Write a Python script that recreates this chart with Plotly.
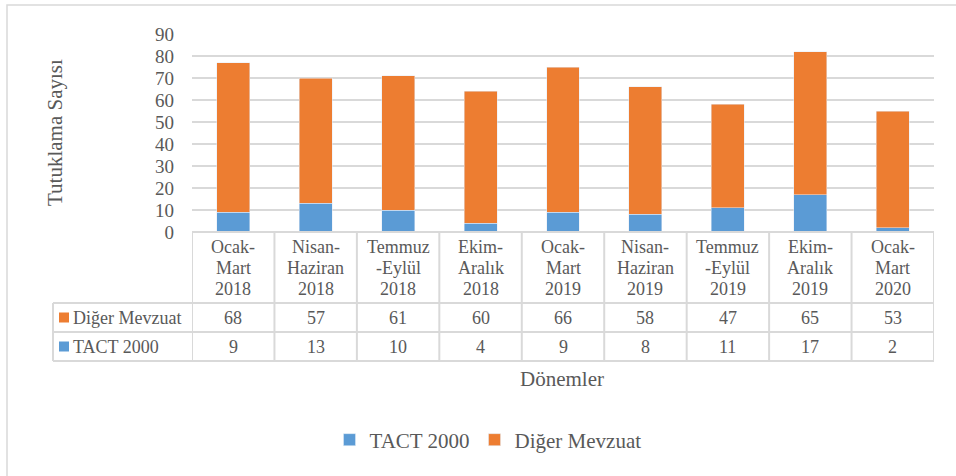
import plotly.graph_objects as go

# ---- data ----
categories = [
    "Ocak-\nMart\n2018", "Nisan-\nHaziran\n2018", "Temmuz\n-Eylül\n2018", "Ekim-\nAralık\n2018",
    "Ocak-\nMart\n2019", "Nisan-\nHaziran\n2019", "Temmuz\n-Eylül\n2019", "Ekim-\nAralık\n2019",
    "Ocak-\nMart\n2020",
]
tact_2000 = [9, 13, 10, 4, 9, 8, 11, 17, 2]
diger_mevzuat = [68, 57, 61, 60, 66, 58, 47, 65, 53]
series_names = ["TACT 2000", "Diğer Mevzuat"]
y_ticks = [0, 10, 20, 30, 40, 50, 60, 70, 80, 90]
y_title = "Tutuklama Sayısı"
x_title = "Dönemler"

# ---- style ----
W, H = 956, 476
L, R, T, B = 192, 934, 34, 232  # plot area pixel bounds
BLUE = "#5B9BD5"
ORANGE = "#ED7D31"
TXT = "#595959"
GRID = "#D9D9D9"
FONT = "Liberation Serif"


def px(p):
    return (p - L) / (R - L)


def py(p):
    return (B - p) / (B - T)


xs = list(range(len(categories)))

fig = go.Figure()
fig.add_trace(go.Bar(x=xs, y=tact_2000, name=series_names[0], marker_color=BLUE))
fig.add_trace(go.Bar(x=xs, y=diger_mevzuat, name=series_names[1], marker_color=ORANGE))

shapes = []
annotations = []
line = dict(color=GRID, width=2)

# outer chart border (left/top visible)
shapes.append(dict(type="rect", xref="paper", yref="paper", x0=px(7), x1=px(1100),
                   y0=py(5), y1=py(700), line=dict(color=GRID, width=1.5)))

# data table lines
row_y = [232, 303, 332, 361]
shapes.append(dict(type="line", xref="paper", yref="paper", x0=px(L), x1=px(R),
                   y0=py(232), y1=py(232), line=line))
for yy in row_y[1:]:
    shapes.append(dict(type="line", xref="paper", yref="paper", x0=px(53), x1=px(R),
                       y0=py(yy), y1=py(yy), line=line))
for i in range(len(categories) + 1):
    shapes.append(dict(type="line", xref="x", yref="paper", x0=i - 0.5, x1=i - 0.5,
                       y0=py(232), y1=py(361), line=line))
shapes.append(dict(type="line", xref="paper", yref="paper", x0=px(53), x1=px(53),
                   y0=py(303), y1=py(361), line=line))

# header row text (category labels)
line_y = [247, 268, 289]
for i, cat in enumerate(categories):
    for j, part in enumerate(cat.split("\n")):
        annotations.append(dict(x=i, xref="x", y=py(line_y[j]), yref="paper", text=part,
                                showarrow=False, xanchor="center", yanchor="middle",
                                font=dict(family=FONT, size=18, color=TXT)))

# data rows
rows = [(series_names[1], diger_mevzuat, ORANGE, 317.5),
        (series_names[0], tact_2000, BLUE, 346.5)]
for name, vals, col, yc in rows:
    shapes.append(dict(type="rect", xref="paper", yref="paper", x0=px(59), x1=px(69),
                       y0=py(yc - 5), y1=py(yc + 5), fillcolor=col, line=dict(width=0)))
    annotations.append(dict(x=px(71), xref="paper", y=py(yc), yref="paper", text=name,
                            showarrow=False, xanchor="left", yanchor="middle",
                            font=dict(family=FONT, size=18, color=TXT)))
    for i, v in enumerate(vals):
        annotations.append(dict(x=i, xref="x", y=py(yc), yref="paper", text=str(v),
                                showarrow=False, xanchor="center", yanchor="middle",
                                font=dict(family=FONT, size=18, color=TXT)))

# axis titles
annotations.append(dict(x=px(55), xref="paper", y=py(133), yref="paper", text=y_title,
                        textangle=-90, showarrow=False, xanchor="center", yanchor="middle",
                        font=dict(family=FONT, size=21, color=TXT)))
annotations.append(dict(x=px(562), xref="paper", y=py(379), yref="paper", text=x_title,
                        showarrow=False, xanchor="center", yanchor="middle",
                        font=dict(family=FONT, size=21, color=TXT)))

fig.update_layout(
    width=W, height=H,
    margin=dict(l=L, r=W - R, t=T, b=H - B, pad=0),
    paper_bgcolor="white", plot_bgcolor="white",
    barmode="stack", bargap=0.6,
    font=dict(family=FONT, color=TXT),
    showlegend=True,
    legend=dict(orientation="h", x=px(488), xanchor="center", y=py(440), yanchor="middle",
                font=dict(family=FONT, size=21, color=TXT), traceorder="normal",
                bgcolor="rgba(0,0,0,0)"),
    xaxis=dict(range=[-0.5, len(categories) - 0.5], showticklabels=False, showgrid=False,
               zeroline=False, showline=False, ticks="", fixedrange=True),
    yaxis=dict(range=[0, 90], tickvals=y_ticks, showgrid=True, gridcolor=GRID, gridwidth=2,
               zeroline=False, showline=False, ticks="", ticklabelstandoff=17,
               tickfont=dict(family=FONT, size=19, color=TXT), fixedrange=True),
    shapes=shapes,
    annotations=annotations,
)

fig.write_html("out.html", config={"displayModeBar": False},
               post_script="document.body.style.margin='0px';document.body.style.overflow='hidden';")
